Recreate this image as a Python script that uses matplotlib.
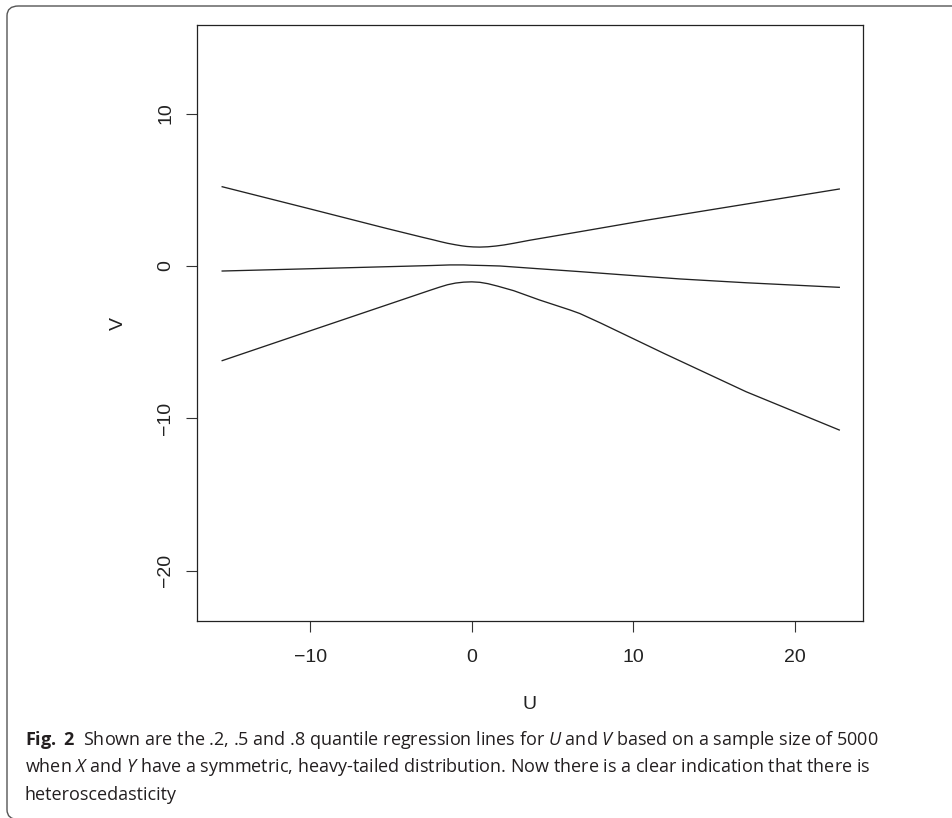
import matplotlib
matplotlib.use("Agg")
import matplotlib.pyplot as plt
from matplotlib.patches import FancyBboxPatch

# Smoothed quantile regression lines
u_q80 = [-15.46, -10.0, -5.3, -3.0, -2.4, -1.95, -1.5, -1.0, -0.6, -0.3, 0.1, 0.5,
         1.0, 1.5, 2.0, 2.6, 3.6, 6.7, 10.8, 15.0, 19.1, 22.77]
v_q80 = [5.20, 3.74, 2.47, 1.87, 1.72, 1.60, 1.49, 1.39, 1.32, 1.28, 1.25, 1.24,
         1.26, 1.31, 1.38, 1.49, 1.69, 2.25, 3.00, 3.72, 4.42, 5.05]

u_q50 = [-15.46, -10.0, -5.0, -2.5, -1.35, -0.5, 0.0, 0.8, 1.75, 4.0, 6.7, 9.5, 12.9, 17.0, 22.77]
v_q50 = [-0.33, -0.18, -0.04, 0.03, 0.07, 0.07, 0.05, 0.03, 0.00, -0.17, -0.37, -0.59, -0.85, -1.10, -1.40]

u_q20 = [-15.46, -10.0, -5.0, -2.6, -2.0, -1.5, -1.0, -0.5, 0.0, 0.5, 1.0, 1.6,
         2.6, 4.2, 6.1, 6.7, 8.0, 11.9, 17.0, 22.77]
v_q20 = [-6.21, -4.25, -2.46, -1.60, -1.39, -1.23, -1.12, -1.06, -1.04, -1.07, -1.16, -1.32,
         -1.62, -2.23, -2.89, -3.12, -3.75, -5.73, -8.25, -10.76]

x_ticks = [-10, 0, 10, 20]
y_ticks = [-20, -10, 0, 10]

caption_lines = [
    r"$\mathbf{Fig.}$ $\mathbf{2}$  Shown are the .2, .5 and .8 quantile regression lines for $\mathit{U}$ and $\mathit{V}$ based on a sample size of 5000",
    r"when $\mathit{X}$ and $\mathit{Y}$ have a symmetric, heavy-tailed distribution. Now there is a clear indication that there is",
    "heteroscedasticity",
]

plt.rcParams["font.family"] = ["Liberation Sans", "DejaVu Sans"]
plt.rcParams["mathtext.fontset"] = "custom"
plt.rcParams["mathtext.rm"] = "Open Sans"
plt.rcParams["mathtext.it"] = "Open Sans:italic"
plt.rcParams["mathtext.bf"] = "Open Sans:bold"

W, H = 952, 818
fig = plt.figure(figsize=(W / 100, H / 100), dpi=100)

# rounded frame around figure + caption, cut off at the right and bottom edges
frame = FancyBboxPatch(
    (7 / W, 1 - 819.5 / H), (990 - 7) / W, (819.5 - 6) / H,
    boxstyle="round,pad=0,rounding_size=0.012",
    transform=fig.transFigure, fill=False, edgecolor="#555555", linewidth=1.0,
)
fig.patches.append(frame)

ax = fig.add_axes([197 / W, 1 - 621 / H, (863 - 197) / W, (621 - 25) / H])
for u, v in [(u_q80, v_q80), (u_q50, v_q50), (u_q20, v_q20)]:
    ax.plot(u, v, color="#222222", linewidth=0.95, solid_joinstyle="round")

ax.set_xlim(-17.02, 24.24)
ax.set_ylim(-23.29, 15.81)
ax.set_xticks(x_ticks)
ax.set_yticks(y_ticks)
ax.set_xticklabels([str(t).replace("-", "\u2212") for t in x_ticks])
ax.set_yticklabels([str(t).replace("-", "\u2212") for t in y_ticks], rotation=90, va="center")
ax.tick_params(direction="out", length=8, width=0.8, color="#333333",
               labelsize=14, labelcolor="#222222")
ax.tick_params(axis="x", pad=12)
ax.tick_params(axis="y", pad=8.5)
for s in ax.spines.values():
    s.set_linewidth(0.9)
    s.set_color("#222222")

ax.set_xlabel("U", fontsize=14, color="#222222", labelpad=21.5)
ax.set_ylabel("V", fontsize=14, color="#222222", labelpad=22)

for i, line in enumerate(caption_lines):
    fig.text(25 / W, 1 - (740 + 27.5 * i) / H, line, fontsize=13, family="Open Sans",
             color="#231f20", va="center", ha="left")

fig.savefig("out.png", dpi=100)
